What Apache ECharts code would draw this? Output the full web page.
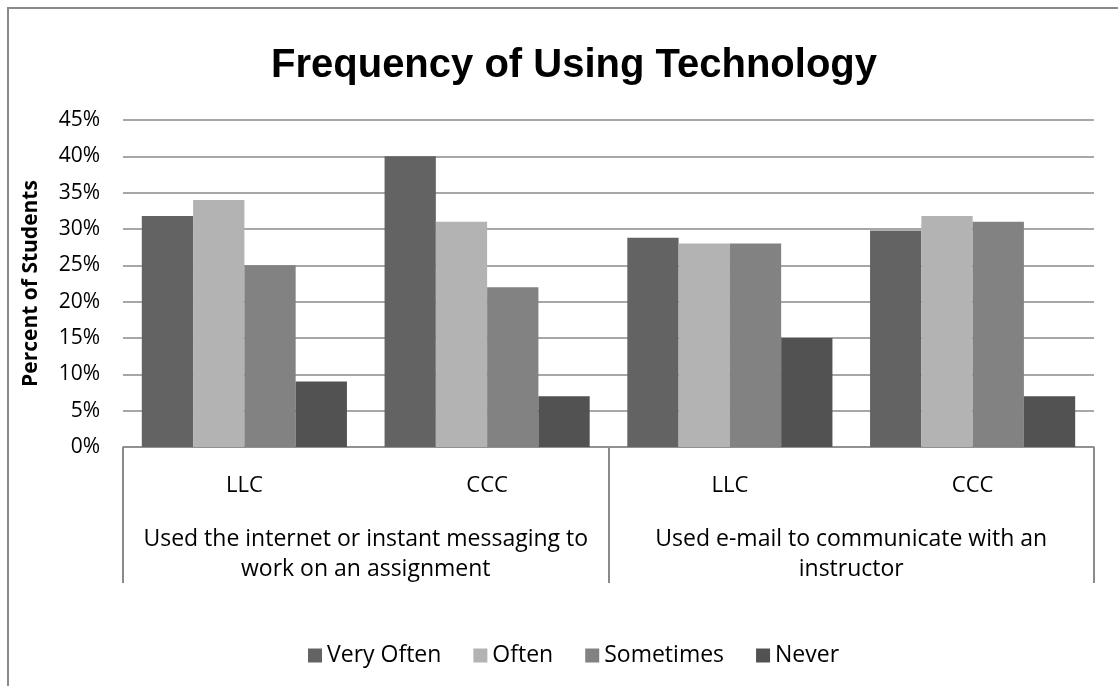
<!DOCTYPE html>
<html>
<head>
<meta charset="utf-8">
<script src="https://cdn.jsdelivr.net/npm/echarts@6/dist/echarts.min.js"></script>
<style>
  html, body { margin: 0; padding: 0; background: #ffffff; }
  #chart { width: 1118px; height: 686px; }
</style>
</head>
<body>
<div id="chart"></div>
<script>
// Survey results: share of students by how often they used each technology
const title = 'Frequency of Using Technology';
const groups = ['Used the internet or instant messaging to\nwork on an assignment', 'Used e-mail to communicate with an\ninstructor'];
const colleges = ['LLC', 'CCC', 'LLC', 'CCC'];
const seriesNames = ['Very Often', 'Often', 'Sometimes', 'Never'];
const veryOften = [31.8, 40, 28.8, 29.8];
const often = [34, 31, 28, 31.8];
const sometimes = [25, 22, 28, 31];
const never = [9, 7, 15, 7];
const yTicks = [0, 5, 10, 15, 20, 25, 30, 35, 40, 45];

const values = [veryOften, often, sometimes, never];
const colors = ['#636363', '#b3b3b3', '#828282', '#525252'];
const TITLE_FONT = '"Liberation Sans", Arial, sans-serif';
const FONT = '"Open Sans", "Liberation Sans", Arial, sans-serif';
const AXIS_GRAY = '#8a8a8a';

const chart = echarts.init(document.getElementById('chart'), null, { renderer: 'canvas' });

chart.setOption({
  backgroundColor: '#ffffff',
  animation: false,
  textStyle: { fontFamily: FONT },
  graphic: [{
    type: 'rect',
    shape: { x: 8, y: 8, width: 1300, height: 900 },
    style: { fill: 'none', stroke: AXIS_GRAY, lineWidth: 2 },
    silent: true,
    z: -1
  }],
  title: {
    text: title,
    left: 569,
    top: 41,
    textAlign: 'center',
    textStyle: { fontFamily: TITLE_FONT, fontWeight: 'bold', fontSize: 40, color: '#000000' }
  },
  legend: {
    data: seriesNames,
    left: 303,
    top: 639,
    itemWidth: 14,
    itemHeight: 14,
    itemGap: 32,
    icon: 'rect',
    textStyle: { fontFamily: FONT, fontSize: 23, color: '#000000' }
  },
  grid: { left: 123, right: 24, top: 120, bottom: 239, containLabel: false },
  xAxis: [{
    type: 'category',
    data: colleges,
    position: 'bottom',
    axisLine: { show: true, lineStyle: { color: AXIS_GRAY, width: 1.5 } },
    axisTick: { show: false },
    axisLabel: { margin: 28, fontFamily: FONT, fontSize: 22, color: '#000000', lineHeight: 22 }
  }, {
    type: 'category',
    data: groups,
    position: 'bottom',
    axisLine: { show: false },
    axisTick: { show: true, interval: 0, length: 136, lineStyle: { color: AXIS_GRAY, width: 2 } },
    axisLabel: { margin: 77, interval: 0, fontFamily: FONT, fontSize: 23, color: '#000000', lineHeight: 30, align: 'center' }
  }],
  yAxis: {
    type: 'value',
    min: yTicks[0],
    max: yTicks[yTicks.length - 1],
    interval: yTicks[1] - yTicks[0],
    name: 'Percent of Students',
    nameLocation: 'middle',
    nameGap: 81,
    nameTextStyle: { fontFamily: FONT, fontWeight: 'bold', fontSize: 21, color: '#000000' },
    axisLine: { show: false },
    axisTick: { show: false },
    axisLabel: { margin: 23, fontFamily: FONT, fontSize: 21, color: '#000000', formatter: v => v + '%' },
    splitLine: { show: true, lineStyle: { color: AXIS_GRAY, width: 1.5 } }
  },
  series: seriesNames.map((name, i) => ({
    name: name,
    type: 'bar',
    xAxisIndex: 0,
    data: values[i],
    barGap: '0%',
    barCategoryGap: '15.5%',
    itemStyle: { color: colors[i] }
  }))
});
</script>
</body>
</html>
